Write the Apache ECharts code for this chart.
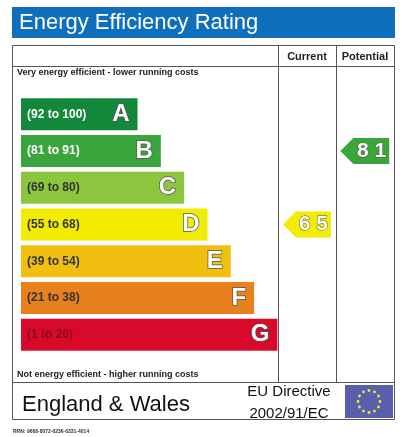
<!DOCTYPE html>
<html>
<head>
<meta charset="utf-8">
<script src="https://cdn.jsdelivr.net/npm/echarts@6/dist/echarts.min.js"></script>
<style>html,body{margin:0;padding:0;background:#fff}#c{width:408px;height:437px}</style>
</head>
<body>
<div id="c"></div>
<script>
// bands
const bands = ['A', 'B', 'C', 'D', 'E', 'F', 'G'];
const ranges = ['(92 to 100)', '(81 to 91)', '(69 to 80)', '(55 to 68)', '(39 to 54)', '(21 to 38)', '(1 to 20)'];
const bandLengths = [5, 6, 7, 8, 9, 10, 11];
const bandColors = ['#13873a', '#3aa53a', '#8cc63f', '#f2ec00', '#f0bf0f', '#e9801e', '#d9092b'];
const rangeTextColors = ['#fff', '#fff', '#333', '#333', '#333', '#333', '#8a0a1c'];
// ratings: [value, band]
const current = [65, 'D'];
const potential = [81, 'B'];

const chart = echarts.init(document.getElementById('c'));
const F = 'Arial, "Liberation Sans", sans-serif';

function arrow(x0, x1, color) {
	return function (params, api) {
		const y = api.coord([0, api.value(1)])[1];
		const l = api.coord([x0, 0])[0];
		const r = api.coord([x1, 0])[0];
		const h = 13;
		return {
			type: 'group',
			children: [{
				type: 'polygon',
				shape: { points: [[l, y], [l + 13, y - h], [r, y - h], [r, y + h], [l + 13, y + h]] },
				style: { fill: color }
			}, {
				type: 'text',
				style: {
					text: String(api.value(0)).split('').join(' '),
					x: r - 3, y: y, align: 'right', verticalAlign: 'middle',
					font: 'bold 21px ' + F, fill: '#fff', stroke: '#555', lineWidth: 1
				}
			}]
		};
	};
}

chart.setOption({
	animation: false,
	grid: { left: 21, top: 96, width: 372, height: 257 },
	xAxis: { type: 'value', min: 0, max: 15.96, show: false },
	yAxis: { type: 'category', data: bands, inverse: true, show: false },
	graphic: [
		{ type: 'rect', shape: { x: 12, y: 7, width: 383, height: 31 }, style: { fill: '#0f6fba' } },
		{ type: 'text', style: { text: 'Energy Efficiency Rating', x: 19, y: 23, verticalAlign: 'middle', font: '22px ' + F, fill: '#fff' } },
		{ type: 'rect', shape: { x: 12.5, y: 45.5, width: 382, height: 374 }, style: { fill: 'none', stroke: '#555', lineWidth: 1 } },
		{ type: 'line', shape: { x1: 12, y1: 66.5, x2: 395, y2: 66.5 }, style: { stroke: '#555' } },
		{ type: 'line', shape: { x1: 278.5, y1: 45, x2: 278.5, y2: 382 }, style: { stroke: '#555' } },
		{ type: 'line', shape: { x1: 336.5, y1: 45, x2: 336.5, y2: 382 }, style: { stroke: '#555' } },
		{ type: 'line', shape: { x1: 12, y1: 382.5, x2: 395, y2: 382.5 }, style: { stroke: '#555' } },
		{ type: 'text', style: { text: 'Current', x: 307, y: 57, align: 'center', verticalAlign: 'middle', font: 'bold 11px ' + F, fill: '#222' } },
		{ type: 'text', style: { text: 'Potential', x: 365, y: 57, align: 'center', verticalAlign: 'middle', font: 'bold 11px ' + F, fill: '#222' } },
		{ type: 'text', style: { text: 'Very energy efficient - lower running costs', x: 17, y: 73, verticalAlign: 'middle', font: 'bold 9px ' + F, fill: '#222' } },
		{ type: 'text', style: { text: 'Not energy efficient - higher running costs', x: 17, y: 375, verticalAlign: 'middle', font: 'bold 9px ' + F, fill: '#222' } },
		{ type: 'text', style: { text: 'England & Wales', x: 22, y: 405, verticalAlign: 'middle', font: '22px ' + F, fill: '#111' } },
		{ type: 'text', style: { text: 'EU Directive\n2002/91/EC', x: 289, y: 403, align: 'center', verticalAlign: 'middle', font: '15px ' + F, lineHeight: 22, fill: '#111' } },
		{ type: 'rect', shape: { x: 345, y: 385, width: 48, height: 33 }, style: { fill: '#5a5fad' } },
		{ type: 'group', x: 369, y: 401.5, children: Array.from({ length: 12 }, (_, i) => ({
			type: 'circle', shape: { cx: 11 * Math.cos(i * Math.PI / 6), cy: 11 * Math.sin(i * Math.PI / 6), r: 1.4 }, style: { fill: '#f3e83a' }
		})) },
		{ type: 'text', style: { text: 'RRN: 9668-8072-6236-6331-4014', x: 13, y: 432, verticalAlign: 'middle', font: 'bold 5px ' + F, fill: '#333' } }
	],
	series: [{
		type: 'bar', barWidth: 32,
		data: bandLengths.map((v, i) => ({ value: v, itemStyle: { color: bandColors[i] } })),
		label: {
			show: true, position: 'insideLeft', distance: 6,
			formatter: p => ranges[p.dataIndex],
			rich: {},
			fontFamily: F, fontSize: 12, fontWeight: 'bold',
			color: '#fff'
		},
		labelLayout: null
	}, {
		type: 'bar', barWidth: 32, barGap: '-100%',
		data: bandLengths.map(v => ({ value: v, itemStyle: { color: 'transparent' } })),
		label: {
			show: true, position: 'insideRight', distance: 8,
			formatter: p => bands[p.dataIndex],
			fontFamily: F, fontSize: 24, fontWeight: 'bold',
			color: '#fff', textBorderColor: '#555', textBorderWidth: 1.5
		}
	}, {
		type: 'custom',
		renderItem: arrow(11.24, 13.3, '#f2ec00'),
		data: [current]
	}, {
		type: 'custom',
		renderItem: arrow(13.7, 15.8, '#3aa53a'),
		data: [potential]
	}]
});

// per-band range text colours
chart.setOption({
	series: [{
		data: bandLengths.map((v, i) => ({ value: v, itemStyle: { color: bandColors[i] }, label: { color: rangeTextColors[i] } }))
	}]
});
</script>
</body>
</html>
